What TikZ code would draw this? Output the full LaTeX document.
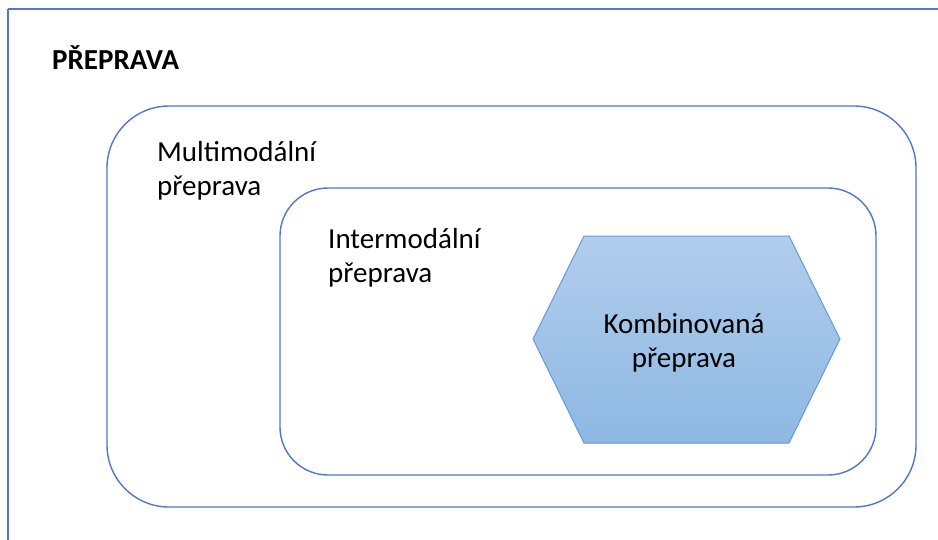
\documentclass[tikz,border=0pt]{standalone}
\usepackage{fontspec}
\setmainfont{Carlito}
\begin{document}
\begin{tikzpicture}[x=1pt,y=-1pt,
  rbox/.style={draw={rgb,255:red,79;green,118;blue,210}, line width=1.4pt},
  lbl/.style={font=\fontsize{29}{34}\selectfont, align=left, anchor=north west, inner sep=0pt},
  hexfill/.style={draw={rgb,255:red,98;green,155;blue,215}, line width=1pt, top color={rgb,255:red,178;green,205;blue,236}, bottom color={rgb,255:red,141;green,184;blue,227}}
]
\useasboundingbox (0,0) rectangle (938,539);
\draw[rbox, line width=1.3pt] (8,9) -- (950,9) (8,9) -- (8,550);
\node[lbl, font=\fontsize{29}{34}\bfseries\selectfont] (title) at (52,45) {PŘEPRAVA};
\draw[rbox, rounded corners=62pt] (107,106) rectangle (916,507);
\node[lbl] (multi) at (157,141) {Multimodální\\přeprava};
\draw[rbox, rounded corners=48pt] (280,188) rectangle (876,475);
\node[lbl] (inter) at (328,228) {Intermodální\\přeprava};
\draw[hexfill] (584,236) -- (789,236) -- (840,339) -- (789,443) -- (584,443) -- (533,339) -- cycle;
\node[font=\fontsize{29}{34}\selectfont, align=center] (komb) at (684,343) {Kombinovaná\\přeprava};
\end{tikzpicture}
\end{document}
